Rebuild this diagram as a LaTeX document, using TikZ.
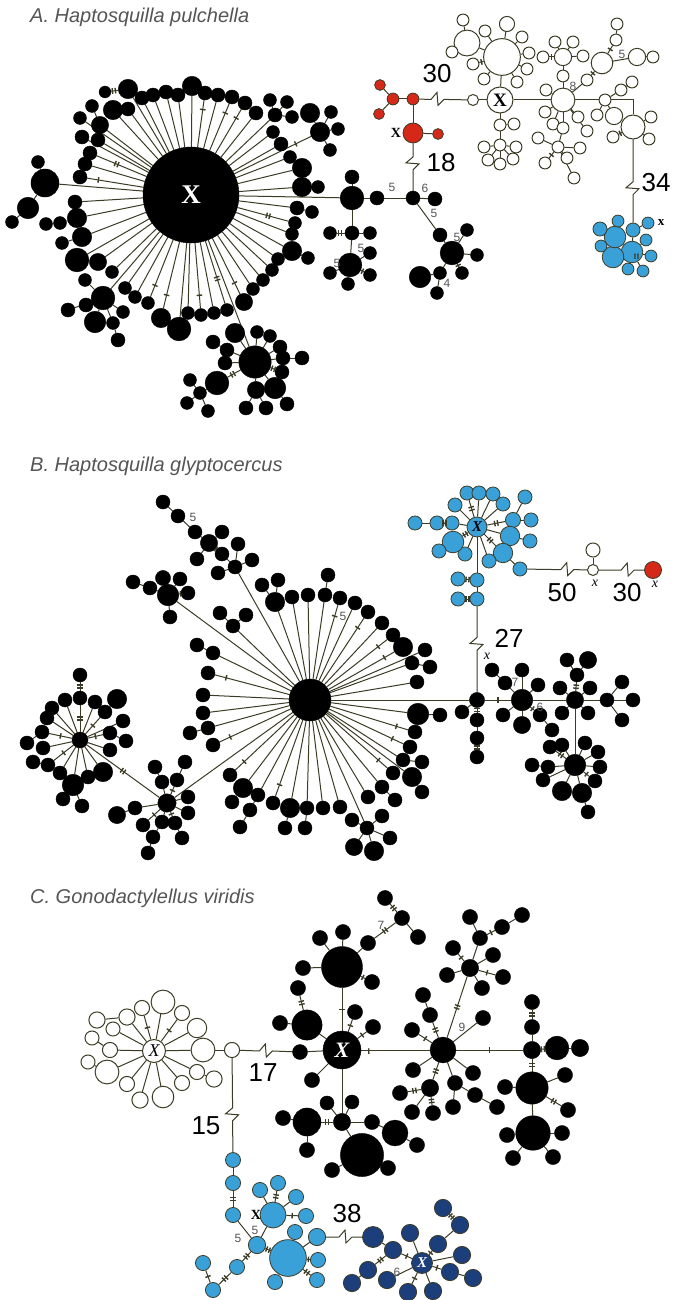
\documentclass[tikz,border=0pt]{standalone}
\usepackage{fontspec}
\setmainfont{Liberation Sans}
\newfontfamily\serifx{Liberation Serif}
\usetikzlibrary{calc,decorations.markings}
\pgfdeclarelayer{back}
\pgfdeclarelayer{bg}
\pgfsetlayers{back,bg,main}
\definecolor{ol}{RGB}{60,60,38}
\definecolor{lb}{RGB}{58,160,216}
\definecolor{db}{RGB}{28,62,122}
\definecolor{rd}{RGB}{214,40,24}
\definecolor{tg}{RGB}{85,85,85}
% edges are collected here and drawn once, behind the circles
\newcommand\edgelist{}
\newcommand\nsc{1.08}
% a haplotype circle of style #1 at #4, diameter #5, joined to its parent #2
\newcommand\hap[5]{%
  \node[#1,minimum size=\nsc*#5pt] (#3) at (#4) {};
  \xdef\edgelist{\unexpanded\expandafter{\edgelist}\noexpand\draw[edge] (#2) -- (#3);}}
\tikzset{
  edge/.style={draw=ol, line width=1pt},
  blk/.style={circle, inner sep=0pt, fill=black, draw=black, line width=0.4pt},
  wht/.style={circle, inner sep=0pt, fill=white, draw=ol, line width=1pt},
  blu/.style={circle, inner sep=0pt, fill=lb, draw=ol, line width=0.8pt},
  dbl/.style={circle, inner sep=0pt, fill=db, draw=ol, line width=0.8pt},
  rdn/.style={circle, inner sep=0pt, fill=rd, draw=ol, line width=0.8pt},
  ttl/.style={anchor=base west, inner sep=0pt, text=tg, font=\itshape\fontsize{20}{20}\selectfont},
  big/.style={inner sep=0pt, text=black, font=\fontsize{26}{26}\selectfont},
  sm/.style={inner sep=0pt, text=tg, font=\fontsize{12}{12}\selectfont},
  xl/.style={inner sep=0pt, text=black, font=\serifx\bfseries\fontsize{14}{14}\selectfont},
  xi/.style={inner sep=0pt, text=black, font=\serifx\itshape\fontsize{14}{14}\selectfont},
  zz/.style={to path={-- ($(\tikztostart)!#1!(\tikztotarget)+(-6,0)$) -- ++(6,-7) -- ++(1,13) -- ++(6,-6) -- (\tikztotarget)}},
  vz/.style={to path={-- ($(\tikztostart)!#1!(\tikztotarget)+(0,-6)$) -- ++(-7,6) -- ++(13,1) -- ++(-6,6) -- (\tikztotarget)}},
  tk/.style={postaction={decorate}, decoration={markings, mark=at position #1 with {\fill[ol] (-0.7,-2.8) rectangle (0.7,2.8);}}},
  tk/.default=0.5,
  tkk/.style={postaction={decorate}, decoration={markings, mark=at position #1 with {\fill[ol] (-2.2,-2.8) rectangle (-0.8,2.8); \fill[ol] (0.8,-2.8) rectangle (2.2,2.8);}}},
  tkk/.default=0.5
}
\begin{document}
\begin{tikzpicture}[x=1pt,y=-1pt]
\begin{pgfonlayer}{back}\fill[white] (0,0) rectangle (673,1300);\end{pgfonlayer}
\useasboundingbox (0,0) rectangle (673,1300);

% ---------------- A. Haptosquilla pulchella ----------------
\node[ttl] (tA) at (30,23) {A. Haptosquilla pulchella};
\node[blk,minimum size=96pt,text=white,font=\serifx\bfseries\fontsize{27}{27}\selectfont] (HA) at (191,195) {X};
\foreach \nn/\xx/\yy/\dd in {a1/100/125/16, a2/113/110/18, a3/128/109/13, a4/128/89/18, a5/142/98/13, a6/153/95/13, a7/166/92/13, a8/178/95/13, a9/192/86/18, a10/205/93/13, a11/218/95/13, a12/232/97/13, a13/245/103/13, a14/256/113/13, a15/275/115/13, a16/273/132/12, a17/281/144/13, a18/320/132/18, a19/290/157/12, a20/302/168/18, a21/302/187/18, a22/297/208/13, a23/295/223/12, a24/292/234/12, a25/292/251/18, a26/278/259/12, a27/272/270/12, a28/263/280/12, a29/253/289/12, a30/244/302/16, a31/227/310/12, a32/214/313/12, a33/201/315/12, a34/188/313/12, a35/179/329/22, a36/161/318/18, a37/148/303/12, a38/135/297/12, a39/125/288/12, a40/112/272/12, a41/98/262/16, a42/77/260/22, a43/82/237/18, a44/77/218/18, a45/75/202/13, a46/45/183/26, a47/80/177/13, a48/85/164/13, a49/90/153/13, a50/98/140/13, a51/82/137/13, a52/80/118/12, LA/255/362/30, LC/103/298/22, RA1/352/198/22}
  {\hap{blk}{HA}{\nn}{\xx,\yy}{\dd}}
\foreach \pp/\nn/\xx/\yy/\dd in {a4/b1/105/92/11, a1/b2/92/106/12, a15/b3/270/100/12, a15/b4/287/102/12, a15/b5/292/117/12, a18/b6/310/113/18, a18/b7/331/112/12, a18/b8/330/150/12, a18/b9/338/129/12, a21/b10/318/187/12, a22/b11/312/212/12, a25/b12/308/258/12, a43/b13/62/243/12, a44/b14/60/223/12, b14/b15/46/224/12, a46/b16/38/162/12, a46/b17/28/208/20, b17/b18/12/222/12,
  LC/c1/85/280/12, LC/c2/68/310/13, LC/c3/86/305/13, LC/c4/95/322/20, LC/c5/113/323/12, c5/c6/118/340/13, LC/c7/123/312/12,
  LA/d1/235/333/18, LA/d2/257/332/12, LA/d3/270/336/12, LA/d4/280/347/13, LA/d5/283/358/13, d5/d6/302/358/13, LA/d7/282/372/13, LA/d8/275/388/20, d8/d9/287/404/13, LA/d10/256/390/16, d10/d11/246/408/13, d10/d12/266/408/13, LA/d13/225/363/13, LA/d14/227/350/13, d14/d15/213/342/13, LA/d16/217/383/22, d16/d17/200/393/12, d17/d18/190/380/12, d17/d19/187/403/12, d17/d20/208/411/12,
  RA1/e1/352/177/13, RA1/e2/377/198/13, e2/RA2/413/198/13, RA2/e3/435/199/13, RA1/e4/352/233/13, e4/e5/330/233/12, e4/e6/370/233/12, e4/e7/350/265/22, e7/e8/330/273/12, e7/e9/348/284/12, e7/e10/370/275/12, e7/e11/370/253/12, RA2/e12/440/235/13, e12/e13/452/253/22, e13/e14/467/230/12, e13/e15/477/255/12, e13/e16/462/273/12, e13/e17/440/273/12, e17/e18/420/277/20, e17/e19/437/293/12}
  {\hap{blk}{\pp}{\nn}{\xx,\yy}{\dd}}
% red group
\node[rdn,minimum size=20pt] (R1) at (413,133) {};
\foreach \pp/\nn/\xx/\yy/\dd in {R1/r1/438/134/10, R1/R2/413/99/11, R2/r3/393/99/11, r3/r4/380/85/10, r3/r5/379/114/10}
  {\hap{rdn}{\pp}{\nn}{\xx,\yy}{\dd}}
% white group
\node[wht,minimum size=11pt] (W1) at (473,100) {};
\node[wht,minimum size=26pt,font=\serifx\bfseries\fontsize{19}{19}\selectfont] (WX) at (500,100) {X};
\foreach \pp/\nn/\xx/\yy/\dd in {WX/WB/502/57/34, WB/w1/467/43/24, w1/w2/463/20/11, w1/w3/452/52/11, WB/w4/473/64/11, WB/w5/484/79/11, WB/w6/485/31/11, WB/w7/507/24/14, WB/w8/522/37/11, WB/w9/529/53/11, WB/w10/527/69/11, WB/w11/517/82/11,
  WX/w12/500/125/11, w12/w13/500/145/11, w13/w14/484/147/11, w13/w15/516/147/11, w13/w16/488/160/11, w13/w17/500/164/11, w13/w18/513/159/11, w12/w19/514/124/11,
  WX/WH/563/100/22, WH/w20/563/76/11, w20/w21/563/57/16, w21/w22/543/57/11, w21/w23/555/42/11, w21/w24/573/42/11, w21/w25/583/56/11, WH/w26/546/90/11, WH/w27/545/112/11, WH/w28/553/124/11, WH/w29/563/128/11, w29/w30/558/147/11, w30/w31/538/138/11, w30/w32/545/163/11, w30/w33/567/158/11, w30/w34/574/178/11, w30/w35/580/148/11, WH/w36/578/117/11, WH/w37/587/131/11, WH/w38/587/80/11, w38/w39/602/63/20, w39/w40/616/40/11, w40/w41/617/24/11, w39/w42/637/57/16, w42/w43/653/57/11, WH/w44/605/100/11, w44/w45/597/115/11, w44/w46/614/116/16, w44/w47/621/90/11, w47/w48/632/82/11}
  {\hap{wht}{\pp}{\nn}{\xx,\yy}{\dd}}
\node[wht,minimum size=24pt] (WR) at (633,127) {};
\foreach \pp/\nn/\xx/\yy/\dd in {WR/w49/613/137/11, WR/w50/651/117/11, WR/w51/649/139/11}
  {\hap{wht}{\pp}{\nn}{\xx,\yy}{\dd}}
% blue group
\node[blu,minimum size=14pt] (B1) at (633,230) {};
\foreach \pp/\nn/\xx/\yy/\dd in {B1/bl1/648/223/11, B1/BH/632/252/20, BH/bl2/646/240/11, BH/bl3/651/256/11, BH/bl4/643/271/11, BH/bl5/628/269/11, BH/bl6/613/257/20, bl6/bl7/601/246/11, BH/bl8/615/237/20, bl8/bl9/600/229/13, bl8/bl10/618/221/11}
  {\hap{blu}{\pp}{\nn}{\xx,\yy}{\dd}}
% mutation marks
\foreach \a/\b in {HA/a10, HA/a12, HA/a13, HA/a47, HA/a18, HA/a37, HA/a36, HA/a30, HA/a33}
  {\path[tk=0.8] (\a) -- (\b);}
\foreach \a/\b in {a4/b1, e4/e5, HA/a49, HA/a23, HA/a31, LA/d16, LA/d7, bl6/bl3}
  {\path[tkk=0.6] (\a) -- (\b);}
\foreach \a/\b in {e7/e10, e13/e16, w39/w40, WR/w49, w30/w32, w21/w22, WB/w4, w38/w39}
  {\path[tk] (\a) -- (\b);}
% labels
\node[big] (z30a) at (437,74) {30};
\node[big] (z18) at (441,163) {18};
\node[big] (z34) at (656,183) {34};
\node[xl] (zXr) at (396,133) {X};
\node[xl,font=\serifx\bfseries\fontsize{13}{13}\selectfont] (zxb) at (661,223) {x};
\node[sm] (za1) at (392,187) {5};
\node[sm] (za2) at (425,188) {6};
\node[sm] (za3) at (434,213) {5};
\node[sm] (za4) at (457,237) {5};
\node[sm] (za5) at (447,283) {4};
\node[sm] (za6) at (361,248) {5};
\node[sm] (za7) at (337,263) {5};
\node[sm] (za8) at (622,54) {5};
\node[sm] (za9) at (573,86) {8};

% ---------------- B. Haptosquilla glyptocercus ----------------
\node[ttl] (tB) at (30,471) {B. Haptosquilla glyptocercus};
\node[blk,minimum size=42pt] (HB) at (310,700) {};
\foreach \nn/\xx/\yy/\dd in {g1/235/567/13, g2/168/595/20, g3/233/626/13, g4/213/653/13, g5/208/673/13, g6/203/695/13, g7/203/713/13, g8/208/728/13, g9/213/745/13, SB/167/803/17, g10/230/775/13, g11/243/788/18, g12/258/795/13, g13/273/803/13, g14/290/808/18, g15/307/808/13, g16/323/808/13, g17/340/807/13, g18/367/828/13, g19/368/797/13, g20/382/787/13, g21/393/773/13, g22/412/777/18, g23/403/760/13, g24/410/747/13, g25/415/732/13, g26/418/714/20, J/477/700/14, g27/417/682/13, g28/412/663/13, g29/425/650/13, g30/403/647/18, g31/393/635/13, g32/382/623/13, g33/368/612/13, g34/355/603/13, g35/340/598/13, g36/325/595/13, g37/308/595/13, g38/292/597/13, g39/275/602/18}
  {\hap{blk}{HB}{\nn}{\xx,\yy}{\dd}}
\node[blk,minimum size=16pt] (LB) at (80,740) {};
\foreach \pp/\nn/\xx/\yy/\dd in {g1/h1/238/544/13, g1/h2/252/560/13, g1/h3/218/573/13, g1/h4/222/554/13, h4/h5/209/543/16, h5/h6/195/532/13, h6/h7/178/516/13, h7/h8/163/502/13, h5/h9/222/532/13, h5/h10/197/559/13,
  g2/h11/150/588/13, h11/h12/133/582/13, g2/h13/163/578/14, g2/h14/180/579/13, g2/h15/188/593/13, g2/h16/170/617/13,
  g3/h17/220/613/13, g3/h18/246/615/13, g4/h19/197/645/13, g8/h20/190/733/13,
  g11/h21/232/802/13, g12/h22/250/810/13, h22/h23/240/827/13, g14/h24/285/828/13, g15/h25/305/828/13,
  g18/h26/352/820/13, g18/h27/382/816/13, g18/h28/390/838/13, g18/h29/374/851/18, g18/h30/354/847/16,
  g20/h31/395/800/13, g22/h32/422/792/13, g23/h33/422/762/13, g26/h34/440/715/13, g28/h35/430/667/13, g36/h36/328/575/13, g39/h37/262/585/13, g39/h38/278/580/13,
  LB/i1/80/698/13, i1/i2/80/675/13, LB/i3/65/700/13, LB/i4/52/708/13, LB/i5/95/702/13, LB/i6/105/712/13, i6/i7/117/699/18, LB/i8/123/721/13, LB/i9/110/733/13, i9/i10/126/741/13, LB/i11/110/750/13, LB/i12/103/772/18, LB/i13/88/777/13, LB/i14/73/785/20, i14/i15/63/799/13, i14/i16/82/806/13, LB/i17/60/773/13, LB/i18/48/765/13, i18/i19/33/762/13, LB/i20/43/748/13, LB/i21/42/732/13, i21/i22/27/743/13, LB/i23/47/718/13,
  SB/j1/162/782/13, j1/j2/155/767/13, SB/j3/177/780/13, j3/j4/185/762/13, SB/j5/188/797/13, SB/j6/188/813/13, SB/j7/175/823/13, j7/j8/182/838/13, SB/j9/162/822/13, j9/j10/153/837/13, j10/j11/148/853/13, SB/j12/143/825/13, SB/j13/135/808/13, j13/j14/117/815/16,
  J/l1/462/712/13, J/l2/477/720/13, l2/l3/477/738/13, l3/l4/477/757/13, J/l5/522/700/20, l5/l6/505/683/13, l6/l7/492/670/13, l5/l8/522/670/13, l5/l9/538/685/13, l5/l10/503/715/13, l5/l11/522/725/16, l5/l12/540/715/13, l12/l13/552/730/13, l5/l14/575/700/16, l14/l15/577/675/13, l15/l16/567/660/13, l15/l17/588/660/16, l14/l18/560/688/13, l14/l19/590/688/13, l14/l20/562/713/13, l14/l21/588/713/13, l14/l22/607/700/13, l22/l23/622/682/13, l22/l24/633/700/13, l22/l25/622/720/13, l14/l26/575/765/20, l26/l27/550/747/13, l26/l28/548/767/13, l28/l29/532/765/13, l26/l30/543/780/13, l26/l31/562/791/18, l26/l32/582/793/18, l32/l33/588/812/13, l26/l34/600/767/13, l26/l35/598/752/13, l26/l36/585/743/13, l26/l37/595/781/13, l26/l38/562/745/13}
  {\hap{blk}{\pp}{\nn}{\xx,\yy}{\dd}}
% blue group
\node[blu,minimum size=20pt,font=\serifx\bfseries\itshape\fontsize{15}{15}\selectfont] (BB) at (477,527) {X};
\foreach \pp/\nn/\xx/\yy/\dd in {BB/k1/452/523/13, k1/k2/437/523/13, k2/k3/415/523/13, BB/k4/455/505/13, BB/k5/467/493/13, BB/k6/479/493/13, BB/k7/493/494/13, BB/k8/503/504/13, BB/k9/513/520/14, k9/k10/525/497/13, k9/k11/531/520/13, BB/k12/510/536/18, k12/k13/530/541/13, BB/k14/503/553/18, k14/k15/520/569/13, BB/k16/489/561/13, BB/k17/465/554/13, BB/k18/453/542/20, k18/k19/439/551/13, BB/k20/477/580/13, k20/k21/458/579/13, k20/k22/477/599/13, k22/k23/458/599/13}
  {\hap{blu}{\pp}{\nn}{\xx,\yy}{\dd}}
\node[wht,minimum size=11pt] (bw1) at (593,570) {};
\hap{wht}{bw1}{bw2}{593,550}{13}
\node[rdn,minimum size=17pt] (br1) at (653,570) {};
% mutation marks
\foreach \a/\b in {HB/g5, HB/g30, HB/g33, HB/g35, HB/g9, HB/g24, HB/g21, HB/g10, HB/g13, HB/g25, HB/g31, h4/h5, g2/h15}
  {\path[tk=0.85] (\a) -- (\b);}
\foreach \a/\b in {LB/SB, J/l2, l3/l4, k1/k2, k20/k21, k22/k23, BB/k5, BB/k14, BB/k18, l14/l15, l26/l27, LB/i1, i1/i2, BB/k9}
  {\path[tkk] (\a) -- (\b);}
\foreach \a/\b in {J/l5, LB/i6, LB/i9, LB/i21, LB/i18, SB/j3, SB/j7, SB/j12, l26/l37, l5/l12}
  {\path[tk] (\a) -- (\b);}
% labels
\node[big] (z27) at (509,638) {27};
\node[big] (z50) at (562,593) {50};
\node[big] (z30b) at (627,593) {30};
\node[xi] (zx1) at (487,656) {x};
\node[xi] (zx2) at (595,583) {x};
\node[xi] (zx3) at (655,584) {x};
\node[sm] (zb1) at (193,517) {5};
\node[sm] (zb2) at (343,616) {5};
\node[sm] (zb3) at (515,682) {7};
\node[sm] (zb4) at (540,707) {6};

% ---------------- C. Gonodactylellus viridis ----------------
\node[ttl] (tC) at (30,903) {C. Gonodactylellus viridis};
\node[wht,minimum size=23pt,font=\serifx\itshape\fontsize{18}{18}\selectfont] (WC) at (154,1051) {X};
\foreach \pp/\nn/\xx/\yy/\dd in {WC/m1/163/1002/22, WC/m2/142/1008/14, WC/m3/127/1017/15, m3/m19/97/1020/15, WC/m4/182/1013/14, WC/m5/197/1028/18, WC/m6/203/1050/22, WC/m7/197/1072/14, m7/m8/214/1079/15, WC/m9/182/1083/14, WC/m10/163/1097/20, WC/m11/140/1100/15, WC/m12/127/1084/14, WC/m13/107/1072/22, m13/m14/88/1062/13, WC/m15/110/1050/14, m15/m16/92/1038/13, WC/m17/113/1029/13, m6/WJ/232/1050/14}
  {\hap{wht}{\pp}{\nn}{\xx,\yy}{\dd}}
\node[blk,minimum size=15pt] (CB1) at (300,1052) {};
\node[blk,minimum size=38pt,text=white,font=\serifx\bfseries\itshape\fontsize{22}{22}\selectfont] (CX) at (342,1050) {X};
\foreach \pp/\nn/\xx/\yy/\dd in {CX/n1/342/967/38, n1/n2/320/938/14, n1/n3/343/932/14, n1/n4/368/943/14, n4/n5/402/918/14, n5/n6/385/898/14, n5/n7/418/937/14, n1/n8/372/982/14, n1/n9/303/968/14, CX/n10/307/1025/28, n10/n11/298/988/14, n10/n12/280/1023/14, CX/n13/355/1012/14, CX/n14/373/1027/14, CX/n15/312/1080/14, CX/n16/342/1122/16, n16/n17/307/1122/26, n17/n18/283/1118/14, n17/n19/307/1150/14, n16/n20/327/1103/13, n16/n21/352/1102/13, n16/n22/372/1122/14, n22/n23/395/1133/24, n23/n24/417/1145/14, n16/n25/362/1155/40, n25/n26/332/1170/14, n25/n27/388/1168/14,
  CX/C9/443/1050/24, C9/o1/483/1018/14, C9/o2/470/968/16, o2/o3/453/948/14, o2/o4/447/975/14, o2/o5/503/977/14, o2/o6/493/955/14, o2/o7/482/988/14, o2/o8/480/938/14, o8/o9/470/917/14, o8/o10/502/927/14, o10/o11/522/915/14, C9/o12/430/1015/14, o12/o13/423/995/14, C9/o14/412/1030/14, C9/o15/413/1070/14, C9/o16/430/1088/16, o16/o17/400/1093/14, o16/o18/412/1112/14, o16/o19/433/1113/14, C9/o20/455/1083/14, o20/o21/475/1095/14, o21/o22/497/1107/14, o20/o23/453/1107/14, C9/o24/473/1073/14, C9/o25/532/1050/16, o25/o26/532/1027/14, o26/o27/532/1002/14, o25/o28/557/1048/22, o28/o29/580/1048/16, o25/o30/532/1088/30, o30/o31/565/1075/14, o30/o32/568/1110/14, o30/o33/505/1087/14, o30/o34/533/1133/32, o34/o35/507/1135/14, o34/o36/562/1133/14, o34/o37/513/1158/14, o34/o38/553/1157/14}
  {\hap{blk}{\pp}{\nn}{\xx,\yy}{\dd}}
% blue group
\node[blu,minimum size=15pt] (p1) at (233,1160) {};
\foreach \pp/\nn/\xx/\yy/\dd in {p1/p2/233/1183/14, p2/p3/233/1215/14, p3/PJ/257/1245/16, PJ/PX/273/1215/24, PX/p4/260/1190/14, PX/p5/278/1183/14, PX/p6/296/1197/14, PX/p7/306/1216/14, PJ/PB/288/1258/34, PB/p8/295/1232/14, PB/p9/317/1237/16, PB/p10/318/1260/14, PB/p11/317/1280/14, PB/p12/275/1282/14, PJ/p13/237/1267/14, p13/p14/213/1290/14, p14/p15/203/1263/14}
  {\hap{blu}{\pp}{\nn}{\xx,\yy}{\dd}}
% dark blue group
\node[dbl,minimum size=21pt] (q1) at (373,1237) {};
\hap{dbl}{q1}{q2}{393,1250}{16}
\node[dbl,minimum size=21pt,text=white,font=\serifx\bfseries\itshape\fontsize{15}{15}\selectfont] (QX) at (422,1263) {X};
\foreach \pp/\nn/\xx/\yy/\dd in {QX/q3/410/1233/16, QX/q4/438/1244/16, q4/q5/460/1225/16, q5/q6/443/1208/16, QX/q7/462/1255/16, QX/q8/450/1272/16, q8/q9/473/1278/16, QX/q10/433/1291/16, QX/q11/408/1292/16, QX/q12/387/1280/16, q2/q13/368/1270/16, q13/q14/352/1283/16}
  {\hap{dbl}{\pp}{\nn}{\xx,\yy}{\dd}}
% mutation marks
\foreach \a/\b in {WC/m2, WC/m4, n1/CX, n1/n8, CX/n13, CX/n14, CB1/C9, C9/o25, C9/o14, o2/o3, o2/o5, o8/o10, q2/QX, QX/q4, QX/q8, QX/q11, PX/p7, p14/p15, PB/p10}
  {\path[tk] (\a) -- (\b);}
\foreach \a/\b in {n10/n11, n16/n17, n4/n5, n5/n6, C9/o2, C9/o12, C9/o16, o25/o30, o26/o27, o28/o25, o30/o32, p2/p3, PX/p5, PJ/p13, p13/p14, PJ/PB, PB/p11, q13/q2, q5/q6, o16/o17, o16/o19}
  {\path[tkk] (\a) -- (\b);}
% labels
\node[big] (z17) at (263,1073) {17};
\node[big] (z15) at (206,1126) {15};
\node[big] (z38) at (347,1214) {38};
\node[xl] (zXp) at (256,1215) {X};
\node[sm] (zc1) at (381,925) {7};
\node[sm] (zc2) at (462,1027) {9};
\node[sm] (zc3) at (238,1238) {5};
\node[sm] (zc4) at (255,1230) {5};
\node[sm] (zc5) at (397,1272) {6};

% ---------------- all connectors, behind the circles ----------------
\begin{pgfonlayer}{bg}
\edgelist
\draw[edge] (R1) to[vz=0.46] (RA2);
\draw[edge] (R2) to[zz=0.4] (W1);
\draw[edge] (W1) -- (WX);
\draw[edge] (w44) -| (WR);
\draw[edge] (WR) to[vz=0.59] (B1);
\draw[edge] (LB) -- (SB);
\draw[edge] (k22) to[vz=0.44] (J);
\draw[edge] (k15) to[zz=0.64] (bw1);
\draw[edge] (bw1) to[zz=0.57] (br1);
\draw[edge] (WJ) to[zz=0.49] (CB1);
\draw[edge] (CB1) -- (CX);
\draw[edge] (WJ) to[vz=0.58] (p1);
\draw[edge] (p9) to[zz=0.5] (q1);
\draw[edge] (q2) -- (QX);
\end{pgfonlayer}
\end{tikzpicture}
\end{document}
